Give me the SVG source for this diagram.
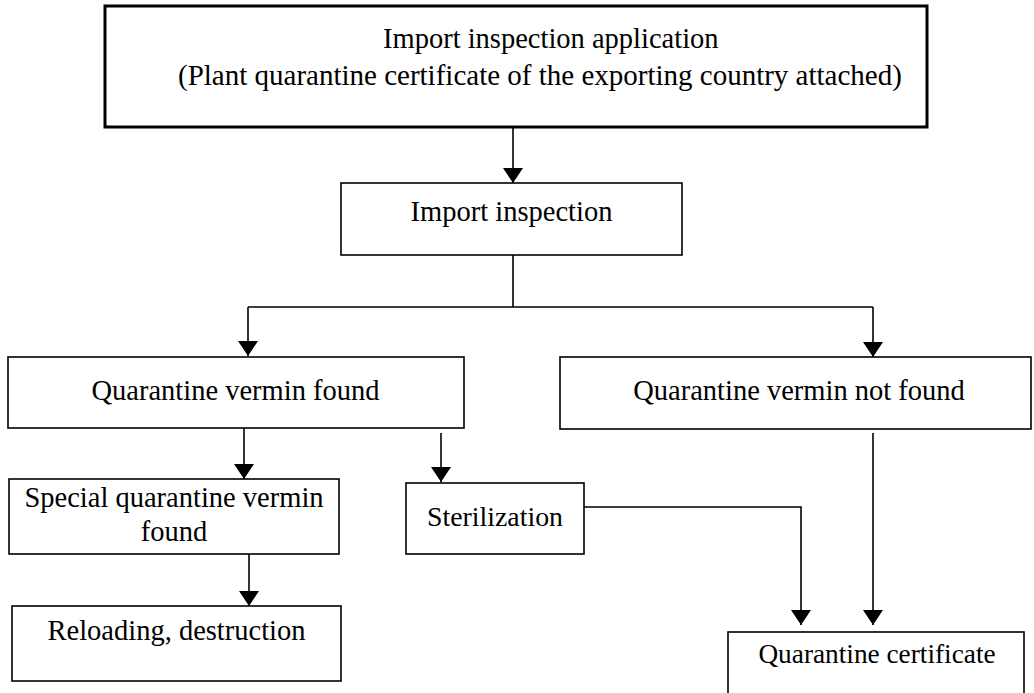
<svg xmlns="http://www.w3.org/2000/svg" width="1034" height="693" viewBox="0 0 1034 693">
<style>
.box{fill:#fff;stroke:#000;stroke-width:1.6}
.thick{stroke-width:3}
.t{font-family:"Liberation Serif","Times New Roman",serif;font-size:28.5px;fill:#000}
.c{text-anchor:middle}
.ln{fill:none;stroke:#000;stroke-width:1.6}
</style>
<defs>
<marker id="ah" markerUnits="userSpaceOnUse" markerWidth="20" markerHeight="20" refX="15" refY="10" orient="auto">
<path d="M0,0 L15,10 L0,20 z" fill="#000"/>
</marker>
</defs>
<rect width="1034" height="693" fill="#fff"/>
<g id="connectors">
<path class="ln" d="M513 127 V183" marker-end="url(#ah)"/>
<path class="ln" d="M513 255 V307 M248 307 H873"/>
<path class="ln" d="M248 307 V356" marker-end="url(#ah)"/>
<path class="ln" d="M873 307 V357" marker-end="url(#ah)"/>
<path class="ln" d="M244 428 V479" marker-end="url(#ah)"/>
<path class="ln" d="M441 433 V482" marker-end="url(#ah)"/>
<path class="ln" d="M249 554 V606" marker-end="url(#ah)"/>
<path class="ln" d="M584 507 H801 V625" marker-end="url(#ah)"/>
<path class="ln" d="M873 433 V625" marker-end="url(#ah)"/>
</g>
<g id="n-application">
<rect class="box thick" x="105" y="6" width="822" height="121"/>
<text class="t" x="383" y="48">Import inspection application</text>
<text class="t" x="178" y="85" style="font-size:29px">(Plant quarantine certificate of the exporting country attached)</text>
</g>
<g id="n-inspection">
<rect class="box" x="341" y="183" width="341" height="72"/>
<text class="t c" x="511.5" y="221">Import inspection</text>
</g>
<g id="n-found">
<rect class="box" x="8" y="357" width="456" height="71"/>
<text class="t c" x="235.5" y="400">Quarantine vermin found</text>
</g>
<g id="n-notfound">
<rect class="box" x="560" y="357" width="471" height="72"/>
<text class="t c" x="799" y="400">Quarantine vermin not found</text>
</g>
<g id="n-special">
<rect class="box" x="9" y="479" width="330" height="75"/>
<text class="t c" x="174" y="507">Special quarantine vermin</text>
<text class="t c" x="174" y="541">found</text>
</g>
<g id="n-sterilization">
<rect class="box" x="406" y="483" width="178" height="71"/>
<text class="t c" x="495" y="526" style="font-size:27.8px">Sterilization</text>
</g>
<g id="n-reloading">
<rect class="box" x="12" y="606" width="329" height="75"/>
<text class="t c" x="176.5" y="640">Reloading, destruction</text>
</g>
<g id="n-certificate">
<rect class="box" x="728" y="632" width="296" height="80"/>
<text class="t c" x="877" y="663" style="font-size:27.3px">Quarantine certificate</text>
</g>
</svg>
